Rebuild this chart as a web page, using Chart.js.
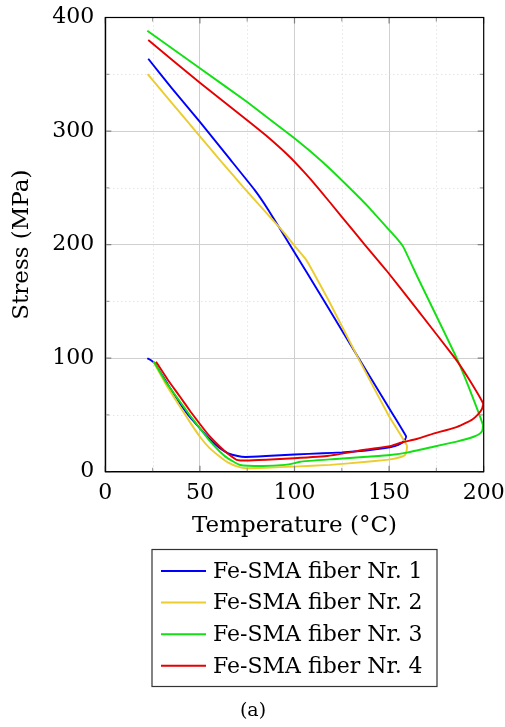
<!DOCTYPE html>
<html>
<head>
<meta charset="utf-8">
<title>Fe-SMA fiber stress vs temperature</title>
<script src="https://cdn.jsdelivr.net/npm/chart.js@4.4.0/dist/chart.umd.min.js"></script>
<style>
  html, body { margin: 0; padding: 0; background: #fff; }
  canvas { display: block; }
</style>
</head>
<body>
<canvas id="chart" width="505" height="727"></canvas>
<script>
// Axis ticks
const xTickValues = [0, 50, 100, 150, 200];
const yTickValues = [0, 100, 200, 300, 400];
const xMinorValues = [25, 75, 125, 175];
const yMinorValues = [50, 150, 250, 350];

const seriesLabels = [
  'Fe-SMA fiber Nr. 1',
  'Fe-SMA fiber Nr. 2',
  'Fe-SMA fiber Nr. 3',
  'Fe-SMA fiber Nr. 4'
];
const seriesColors = ['#0000ff', '#ebcd2f', '#12e012', '#e60000'];

// Each loop: heating branch (low stress) followed by the cooling branch back to room temperature
const temp1 = [22.2, 24.5, 26.3, 33, 39.5, 45, 50, 55, 60.6, 65, 70, 74, 85, 100, 115, 125, 138, 147, 153, 156.5, 158.3, 159,
               152.2, 133.7, 116, 98, 86, 79, 66, 50, 35, 22.7];
const stress1 = [99.9, 97.8, 94.8, 77, 60.2, 47.5, 38.2, 29, 20.6, 16.2, 13.8, 13, 13.8, 15.2, 16.2, 17, 18.7, 20.5, 22.5, 25, 28, 31,
                 50, 100.5, 149.5, 198.5, 231, 248, 275, 308, 338, 363.7];

const temp2 = [25.4, 32, 39.5, 45, 50, 55, 60.6, 65, 70, 74.7, 85, 99.7, 118.8, 138.2, 150.5, 155.8, 158.4, 159.3, 159.3,
               149.6, 133.7, 118, 109.5, 106, 100, 93.2, 73.5, 60.6, 50, 35, 22.4];
const stress2 = [96.9, 77, 57.2, 43, 30.8, 21, 13.2, 8, 4.5, 3, 3.5, 4.5, 6, 8.8, 10.9, 12.7, 14.7, 19, 23.5,
                 50, 100, 151, 177, 187, 199, 212.9, 249.6, 274.5, 295.4, 325, 350.2];

const temp3 = [25.7, 32, 39.5, 45, 50, 55, 60.6, 65, 71.2, 83.5, 95, 100, 102.9, 120, 138.2, 150.5, 160, 173.4, 185.7, 191, 195, 197.5, 199.2, 199.6,
               197.3, 192, 186, 178.6, 165, 157.5, 153.5, 150, 140, 129.3, 115, 100, 75, 50, 22.2];
const stress3 = [96.9, 79, 61.6, 49, 38.2, 27.5, 17.6, 11.5, 5.9, 5, 6, 7.5, 8.8, 11, 13.2, 14.7, 17, 22, 26.5, 28.8, 31, 33, 36, 41,
                 52, 75, 99, 124.8, 171.5, 198, 206.5, 212.9, 231.5, 249.6, 272.5, 293.6, 325.5, 355.3, 388.4];

const temp4 = [26.8, 33, 39.5, 45, 50, 55, 60.6, 65, 69.4, 75, 85, 99.7, 118, 138, 150.5, 156, 165, 173.4, 180, 186, 190, 194, 197, 199, 199.7,
               192, 184.8, 165, 148.4, 137.3, 125, 112.6, 105, 97, 85, 75, 50, 22.7];
const stress4 = [96.9, 81, 66, 53, 42, 31.5, 22, 15.5, 10.5, 9.8, 10.5, 11.8, 14, 19.5, 22.5, 25.5, 29, 33.5, 36.5, 39.5, 42.5, 46, 50.5, 55, 60,
                 82, 100, 142.5, 177.6, 199.6, 224.5, 249.6, 264, 278, 296, 309.5, 342.5, 380.2];

const temps = [temp1, temp2, temp3, temp4];
const stresses = [stress1, stress2, stress3, stress4];

const FONT = 'DejaVu Serif';

function toPoints(xs, ys) {
  return xs.map((t, i) => ({ x: t, y: ys[i] }));
}

// Dotted minor grid under the curves, inner tick marks and full frame on top
const framePlugin = {
  id: 'frame',
  beforeDatasetsDraw(chart) {
    const { ctx, chartArea: a, scales: { x, y } } = chart;
    ctx.save();
    ctx.strokeStyle = '#d9d9d9';
    ctx.lineWidth = 1;
    ctx.setLineDash([1, 3]);
    xMinorValues.forEach(v => {
      const px = Math.round(x.getPixelForValue(v)) + 0.5;
      ctx.beginPath(); ctx.moveTo(px, a.top); ctx.lineTo(px, a.bottom); ctx.stroke();
    });
    yMinorValues.forEach(v => {
      const py = Math.round(y.getPixelForValue(v)) + 0.5;
      ctx.beginPath(); ctx.moveTo(a.left, py); ctx.lineTo(a.right, py); ctx.stroke();
    });
    ctx.restore();
  },
  afterDatasetsDraw(chart) {
    const { ctx, chartArea: a, scales: { x, y } } = chart;
    ctx.save();
    const drawXTicks = (values, len, color) => {
      ctx.strokeStyle = color;
      ctx.lineWidth = 1.2;
      values.forEach(v => {
        const px = x.getPixelForValue(v);
        ctx.beginPath();
        ctx.moveTo(px, a.bottom); ctx.lineTo(px, a.bottom - len);
        ctx.moveTo(px, a.top); ctx.lineTo(px, a.top + len);
        ctx.stroke();
      });
    };
    const drawYTicks = (values, len, color) => {
      ctx.strokeStyle = color;
      ctx.lineWidth = 1.2;
      values.forEach(v => {
        const py = y.getPixelForValue(v);
        ctx.beginPath();
        ctx.moveTo(a.left, py); ctx.lineTo(a.left + len, py);
        ctx.moveTo(a.right, py); ctx.lineTo(a.right - len, py);
        ctx.stroke();
      });
    };
    drawXTicks(xTickValues, 6, '#808080');
    drawXTicks(xMinorValues, 4, '#a0a0a0');
    drawYTicks(yTickValues, 6, '#808080');
    drawYTicks(yMinorValues, 4, '#a0a0a0');
    ctx.strokeStyle = '#000';
    ctx.lineWidth = 1.2;
    ctx.strokeRect(a.left, a.top, a.right - a.left, a.bottom - a.top);
    ctx.restore();
  }
};

// Boxed legend below the axis title, plus the "(a)" caption
const legendPlugin = {
  id: 'boxLegend',
  afterDraw(chart) {
    const { ctx } = chart;
    const box = { left: 152, top: 549.5, width: 285, height: 137 };
    ctx.save();
    ctx.strokeStyle = '#333';
    ctx.lineWidth = 1.2;
    ctx.strokeRect(box.left, box.top, box.width, box.height);
    ctx.font = '22px "' + FONT + '"';
    ctx.textBaseline = 'middle';
    ctx.textAlign = 'left';
    chart.data.datasets.forEach((ds, i) => {
      const cy = box.top + 21.5 + i * 31.6;
      ctx.strokeStyle = ds.borderColor;
      ctx.lineWidth = 2;
      ctx.beginPath();
      ctx.moveTo(161, cy); ctx.lineTo(206, cy);
      ctx.stroke();
      ctx.fillStyle = '#000';
      ctx.fillText(ds.label, 213, cy + 1);
    });
    ctx.font = '19px "' + FONT + '"';
    ctx.textAlign = 'center';
    ctx.fillText('(a)', 253, 711);
    ctx.restore();
  }
};

const datasets = temps.map((xs, i) => ({
  label: seriesLabels[i],
  data: toPoints(xs, stresses[i]),
  borderColor: seriesColors[i],
  backgroundColor: seriesColors[i],
  borderWidth: 1.9,
  pointRadius: 0,
  showLine: true,
  tension: 0.12,
  fill: false,
  order: temps.length - i
}));

new Chart(document.getElementById('chart'), {
  type: 'scatter',
  data: { datasets },
  plugins: [framePlugin, legendPlugin],
  options: {
    responsive: false,
    animation: false,
    devicePixelRatio: 1,
    layout: { padding: { top: 17.5, right: 21.3, bottom: 185.3, left: 0 } },
    plugins: {
      legend: { display: false },
      tooltip: { enabled: false }
    },
    scales: {
      x: {
        type: 'linear',
        position: 'bottom',
        min: 0,
        max: 200,
        afterBuildTicks: s => { s.ticks = xTickValues.map(v => ({ value: v })); },
        afterFit: s => { s.height = 70; s.paddingLeft = 0; s.paddingRight = 0; },
        ticks: { color: '#000', font: { family: FONT, size: 22 }, padding: 8, maxRotation: 0 },
        grid: { color: '#cfcfcf', lineWidth: 1, drawTicks: false },
        border: { color: '#000', width: 1.2 },
        title: {
          display: true,
          text: 'Temperature (°C)',
          color: '#000',
          font: { family: FONT, size: 23, lineHeight: 1 },
          padding: { top: 0, bottom: 4 }
        }
      },
      y: {
        type: 'linear',
        position: 'left',
        min: 0,
        max: 400,
        afterBuildTicks: s => { s.ticks = yTickValues.map(v => ({ value: v })); },
        afterFit: s => { s.width = 105.3; s.paddingTop = 0; s.paddingBottom = 0; },
        ticks: { color: '#000', font: { family: FONT, size: 22 }, padding: 11 },
        grid: { color: '#cfcfcf', lineWidth: 1, drawTicks: false },
        border: { color: '#000', width: 1.2 },
        title: {
          display: true,
          text: 'Stress (MPa)',
          color: '#000',
          font: { family: FONT, size: 23, lineHeight: 1 },
          padding: { top: 11, bottom: 0 }
        }
      }
    }
  }
});
</script>
</body>
</html>
